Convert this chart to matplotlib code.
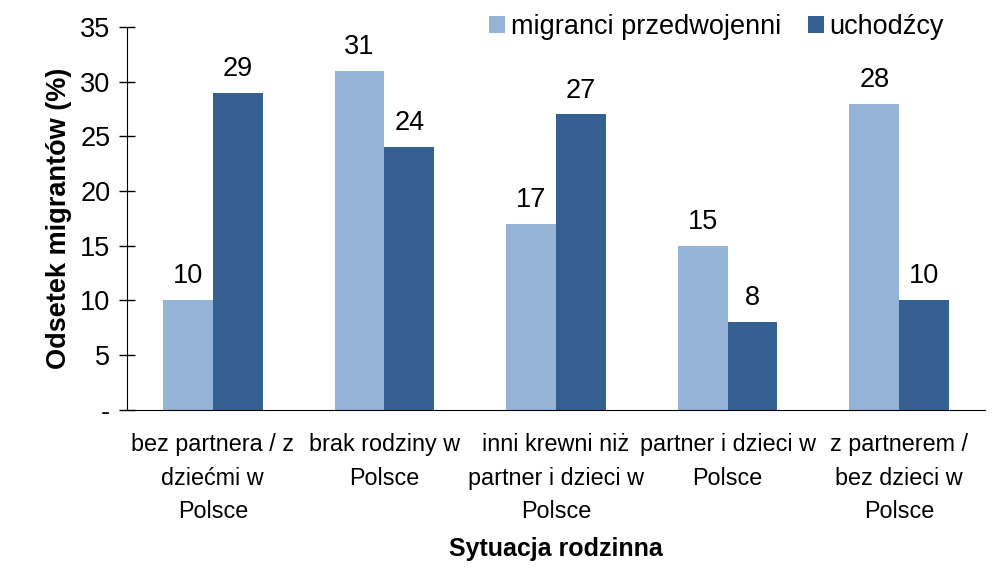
import numpy as np
import matplotlib.pyplot as plt

plt.rcParams['font.family'] = ['Liberation Sans', 'DejaVu Sans']

categories = ['bez partnera / z\ndziećmi w\nPolsce', 'brak rodziny w\nPolsce',
              'inni krewni niż\npartner i dzieci w\nPolsce', 'partner i dzieci w\nPolsce',
              'z partnerem /\nbez dzieci w\nPolsce']
przedwojenni = [10, 31, 17, 15, 28]
uchodzcy = [29, 24, 27, 8, 10]
yticks = [0, 5, 10, 15, 20, 25, 30, 35]
yticklabels = ['-', '5', '10', '15', '20', '25', '30', '35']

fig = plt.figure(figsize=(9.92, 5.87), dpi=100)
ax = fig.add_axes([0.128, 0.302, 0.865, 0.652])

x = np.arange(len(categories))
w = 0.29
b1 = ax.bar(x - w/2, przedwojenni, w, color='#95B3D7', label='migranci przedwojenni')
b2 = ax.bar(x + w/2, uchodzcy, w, color='#376092', label='uchodźcy')

for bars, vals in ((b1, przedwojenni), (b2, uchodzcy)):
    for r, v in zip(bars, vals):
        ax.text(r.get_x() + r.get_width()/2, v + 1.0, str(v), ha='center', va='bottom', fontsize=19.5)

ax.set_xlim(-0.5, len(categories) - 0.5)
ax.set_ylim(0, 35)
ax.set_yticks(yticks)
ax.set_yticklabels(yticklabels, fontsize=19.5)
ax.set_xticks(x)
ax.set_xticklabels(categories, fontsize=16.8, linespacing=1.58)
ax.tick_params(axis='x', length=0, pad=17)
ax.tick_params(axis='y', direction='inout', length=12, width=1, pad=6)
for s in ('top', 'right'):
    ax.spines[s].set_visible(False)

ax.set_ylabel('Odsetek migrantów (%)', fontsize=19.5, fontweight='bold', labelpad=6)
ax.set_xlabel('Sytuacja rodzinna', fontsize=18, fontweight='bold', labelpad=10)

ax.legend(loc='upper right', bbox_to_anchor=(0.965, 1.062), ncol=2, frameon=False,
          fontsize=19.5, handlelength=0.6, handleheight=0.6, handletextpad=0.2,
          columnspacing=1.0, borderaxespad=0)

fig.savefig('out.png', dpi=100)
